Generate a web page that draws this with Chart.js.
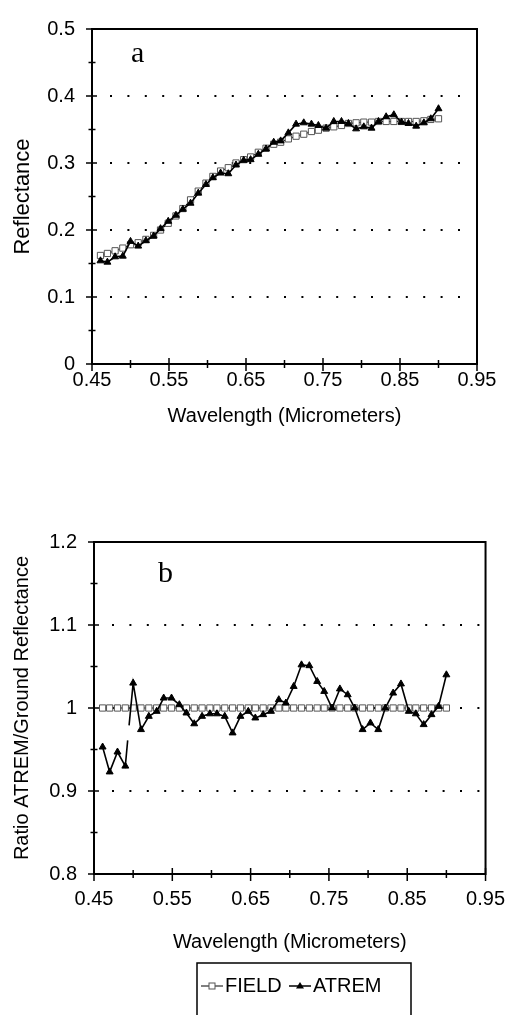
<!DOCTYPE html>
<html><head><meta charset="utf-8">
<script src="https://cdn.jsdelivr.net/npm/chart.js@4.4.0/dist/chart.umd.min.js"></script>
<style>
html,body{margin:0;padding:0;background:#fff;width:509px;height:1015px;overflow:hidden}
canvas{position:absolute;left:0}
#c1{top:0}
#c2{top:450px}
</style></head><body>
<canvas id="c1" width="509" height="440"></canvas>
<canvas id="c2" width="509" height="565"></canvas>
<script>
// ---- data ----
const wavelength = [0.461,0.470,0.480,0.490,0.500,0.510,0.520,0.530,0.539,0.549,0.559,0.568,0.578,0.588,0.598,0.607,0.617,0.627,0.637,0.647,0.656,0.666,0.676,0.686,0.695,0.705,0.715,0.725,0.735,0.744,0.754,0.764,0.774,0.783,0.793,0.803,0.813,0.822,0.832,0.842,0.852,0.861,0.871,0.881,0.890,0.900];
const fieldReflectance = [0.162,0.165,0.169,0.173,0.178,0.181,0.186,0.192,0.200,0.210,0.221,0.232,0.245,0.258,0.270,0.280,0.288,0.293,0.300,0.305,0.309,0.316,0.322,0.328,0.331,0.336,0.340,0.343,0.347,0.349,0.352,0.354,0.356,0.359,0.360,0.361,0.361,0.362,0.362,0.362,0.362,0.362,0.362,0.363,0.365,0.366];
const atremReflectance = [0.154,0.152,0.160,0.161,0.183,0.176,0.184,0.191,0.202,0.213,0.222,0.231,0.240,0.255,0.268,0.278,0.285,0.284,0.297,0.304,0.305,0.313,0.321,0.331,0.333,0.345,0.358,0.360,0.358,0.356,0.352,0.362,0.362,0.359,0.351,0.354,0.352,0.362,0.369,0.372,0.361,0.359,0.355,0.360,0.366,0.381];
const fieldRatio = [1,1,1,1,1,1,1,1,1,1,1,1,1,1,1,1,1,1,1,1,1,1,1,1,1,1,1,1,1,1,1,1,1,1,1,1,1,1,1,1,1,1,1,1,1,1];
const atremRatio = [0.953,0.923,0.947,0.930,1.030,0.974,0.990,0.996,1.012,1.012,1.004,0.994,0.981,0.990,0.993,0.993,0.990,0.970,0.990,0.996,0.988,0.992,0.996,1.010,1.006,1.026,1.052,1.051,1.032,1.020,1.000,1.023,1.016,1.000,0.974,0.982,0.974,1.000,1.018,1.029,0.996,0.993,0.980,0.992,1.002,1.040];
// break in the ATREM ratio line between 0.49 and 0.50 (unmarked line ends)
const atremRatioBreakX = [0.4930, 0.4939, 0.4948];
const atremRatioBreakY = [0.961, null, 0.979];
const xTicks = [0.45,0.55,0.65,0.75,0.85,0.95];
const yTicksA = [0,0.1,0.2,0.3,0.4,0.5];
const yTicksB = [0.8,0.9,1,1.1,1.2];
const gridA = [0.1,0.2,0.3,0.4];
const gridB = [0.9,1,1.1];

const SANS = "'Liberation Sans', Arial, sans-serif";
const SERIF = "'Liberation Serif', 'Times New Roman', serif";
const fmt = v => String(Math.round(v*100)/100);
const pts = (xs, ys) => xs.map((x,i)=>({x, y: ys[i]}));

function mids(arr){ const m=[]; for(let i=0;i<arr.length-1;i++) m.push((arr[i]+arr[i+1])/2); return m; }

const deco = {
  id:'deco',
  beforeDatasetsDraw(chart, args, o){
    const {ctx, chartArea:a, scales:{y}} = chart;
    ctx.save();
    ctx.strokeStyle='#000'; ctx.lineWidth=2; ctx.setLineDash([2,15.4]);
    o.grid.forEach(v=>{
      const py = Math.round(y.getPixelForValue(v));
      ctx.beginPath(); ctx.moveTo(a.left+18, py); ctx.lineTo(a.right-4, py); ctx.stroke();
    });
    ctx.restore();
  },
  afterDatasetsDraw(chart, args, o){
    const {ctx, chartArea:a, scales:{x,y}} = chart;
    ctx.save();
    ctx.strokeStyle='#000'; ctx.lineWidth=2; ctx.setLineDash([]);
    ctx.strokeRect(a.left, a.top, a.right-a.left, a.bottom-a.top);
    ctx.lineWidth=1.5;
    const yt = o.yTicks, xt = o.xTicks;
    yt.forEach(v=>{ const p=y.getPixelForValue(v); ctx.beginPath(); ctx.moveTo(a.left-6,p); ctx.lineTo(a.left+5,p); ctx.stroke(); });
    mids(yt).forEach(v=>{ const p=y.getPixelForValue(v); ctx.beginPath(); ctx.moveTo(a.left-3.5,p); ctx.lineTo(a.left+3.5,p); ctx.stroke(); });
    xt.forEach(v=>{ const p=x.getPixelForValue(v); ctx.beginPath(); ctx.moveTo(p,a.bottom-6); ctx.lineTo(p,a.bottom+7); ctx.stroke(); });
    mids(xt).forEach(v=>{ const p=x.getPixelForValue(v); ctx.beginPath(); ctx.moveTo(p,a.bottom-4); ctx.lineTo(p,a.bottom+4); ctx.stroke(); });
    // panel letter
    ctx.fillStyle='#000'; ctx.font = '30px '+SERIF; ctx.textBaseline='alphabetic'; ctx.textAlign='left';
    ctx.fillText(o.letter, o.letterX, o.letterY);
    ctx.restore();
  }
};

const legendBox = {
  id:'legendBox',
  afterDraw(chart, args, o){
    if(!o.show) return;
    const ctx = chart.ctx;
    ctx.save();
    ctx.strokeStyle='#000'; ctx.lineWidth=1.5;
    ctx.strokeRect(o.left, o.top, o.right-o.left, 200);
    const cy = o.cy;
    // FIELD sample
    ctx.lineWidth=1;
    ctx.beginPath(); ctx.moveTo(o.left+4, cy); ctx.lineTo(o.left+26, cy); ctx.stroke();
    ctx.fillStyle='#fff'; ctx.strokeStyle='#555';
    ctx.fillRect(o.left+12, cy-3, 6, 6); ctx.strokeRect(o.left+12, cy-3, 6, 6);
    // ATREM sample
    ctx.strokeStyle='#000'; ctx.lineWidth=1.5;
    ctx.beginPath(); ctx.moveTo(o.left+92, cy); ctx.lineTo(o.left+114, cy); ctx.stroke();
    ctx.fillStyle='#000';
    ctx.beginPath(); ctx.moveTo(o.left+103, cy-4); ctx.lineTo(o.left+107, cy+2.5); ctx.lineTo(o.left+99, cy+2.5); ctx.closePath(); ctx.fill();
    ctx.font='20px '+SANS; ctx.textBaseline='middle'; ctx.textAlign='left';
    ctx.fillText('FIELD', o.left+28, cy);
    ctx.fillText('ATREM', o.left+116, cy);
    ctx.restore();
  }
};

function makeChart(id, cfg){
  return new Chart(document.getElementById(id), {
    type:'scatter',
    data:{ datasets:[
      { label:'FIELD', data: cfg.field, showLine:true, borderColor:'#000', borderWidth:1,
        pointStyle:'rect', pointRadius:4.4, pointBorderColor:'#555', pointBackgroundColor:'#fff', pointBorderWidth:1, order:2 },
      { label:'ATREM', data: cfg.atrem, showLine:true, spanGaps:false, borderColor:'#000', borderWidth:1.6,
        pointStyle:'triangle', pointRadius: c => (c.raw && c.raw.noMark) ? 0 : 4, pointBorderColor:'#000', pointBackgroundColor:'#000', pointBorderWidth:1, order:1 }
    ]},
    options:{
      responsive:false, animation:false, devicePixelRatio:1,
      layout:{ padding: cfg.pad },
      plugins:{ legend:{display:false}, tooltip:{enabled:false},
        deco:{ grid:cfg.grid, yTicks:cfg.yTicks, xTicks:xTicks, letter:cfg.letter, letterX:cfg.letterX, letterY:cfg.letterY },
        legendBox: cfg.legend },
      scales:{
        x:{ type:'linear', min:0.45, max:0.95,
          afterBuildTicks: s => { s.ticks = xTicks.map(v=>({value:v})); },
          afterFit: s => { s.height = cfg.xH; },
          grid:{display:false, drawTicks:cfg.xTickLen>0, tickLength:cfg.xTickLen}, border:{display:false},
          ticks:{ autoSkip:false, maxRotation:0, color:'#000', padding:4, font:{family:SANS, size:20, lineHeight:1.2}, callback: v => fmt(v) },
          title:{ display:true, text:'Wavelength (Micrometers)', color:'#000', font:{family:SANS, size:20, lineHeight:1.2}, padding:{top:0,bottom:cfg.xTitlePad} } },
        y:{ type:'linear', min:cfg.yTicks[0], max:cfg.yTicks[cfg.yTicks.length-1],
          afterBuildTicks: s => { s.ticks = cfg.yTicks.map(v=>({value:v})); },
          afterFit: s => { s.width = cfg.yW; },
          grid:{display:false, drawTicks:false}, border:{display:false},
          ticks:{ autoSkip:false, color:'#000', padding:17, font:{family:SANS, size:20, lineHeight:1.2}, callback: v => fmt(v) },
          title:{ display:true, text:cfg.yTitle, color:'#000', font:{family:SANS, size:cfg.yTitleSize, lineHeight:1.2}, padding:{top:cfg.yTitlePad,bottom:0} } }
      }
    },
    plugins:[deco, legendBox]
  });
}

// top panel
makeChart('c1', {
  field: pts(wavelength, fieldReflectance),
  atrem: pts(wavelength, atremReflectance),
  pad:{left:0, top:17, right:32, bottom:0}, xH:76, yW:92, xTickLen:0, xTitlePad:12,
  yTicks:yTicksA, grid:gridA, yTitle:'Reflectance', yTitleSize:22, yTitlePad:10,
  letter:'a', letterX:131, letterY:62, legend:{show:false}
});

// bottom panel
const atremRatioPts = pts(wavelength, atremRatio);
const breakPts = atremRatioBreakX.map((x,i)=>({x, y: atremRatioBreakY[i], noMark:true}));
atremRatioPts.splice(4, 0, ...breakPts);
makeChart('c2', {
  field: pts(wavelength, fieldRatio),
  atrem: atremRatioPts,
  pad:{left:0, top:92, right:23, bottom:45}, xH:96, yW:94, xTickLen:9, xTitlePad:16,
  yTicks:yTicksB, grid:gridB, yTitle:'Ratio ATREM/Ground Reflectance', yTitleSize:20, yTitlePad:10,
  letter:'b', letterX:158, letterY:132,
  legend:{show:true, left:197, right:411, top:513, cy:536}
});
</script>
</body></html>
